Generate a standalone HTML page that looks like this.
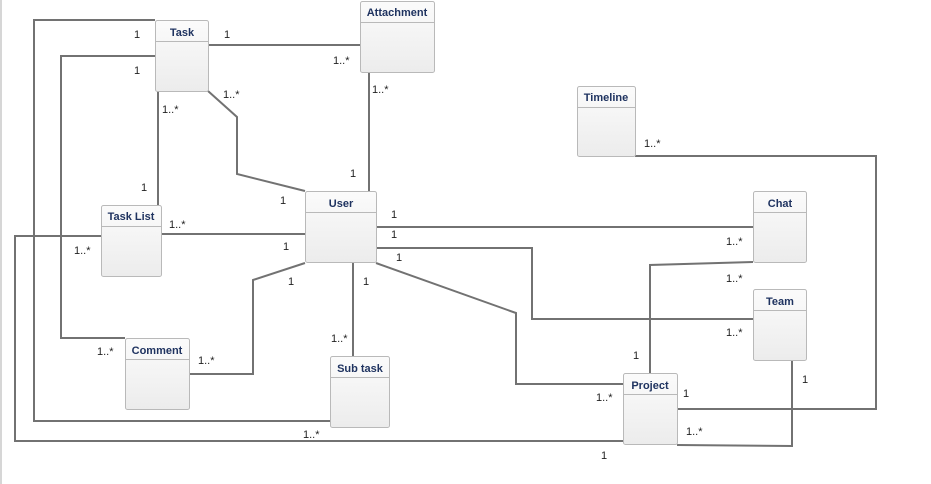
<!DOCTYPE html>
<html><head><meta charset="utf-8"><style>
html,body{margin:0;padding:0;background:#fff;}
svg{display:block;}
.t{font-family:"Liberation Sans",Arial,sans-serif;font-size:11px;fill:#222;}
.h{font-family:"Liberation Sans",Arial,sans-serif;font-size:11px;font-weight:bold;fill:#1f3360;text-anchor:middle;}
.l{fill:none;stroke:#727272;stroke-width:2;}
</style></head><body>
<svg width="931" height="484" viewBox="0 0 931 484" xmlns="http://www.w3.org/2000/svg">
<defs><linearGradient id="g" x1="0" y1="0" x2="0" y2="1"><stop offset="0" stop-color="#fbfbfb"/><stop offset="1" stop-color="#ececec"/></linearGradient></defs>
<line x1="1" y1="0" x2="1" y2="484" stroke="#c8c8c8" stroke-width="1.5"/>
<g class="l">
<polyline points="155,20 34,20 34,421 330,421"/>
<polyline points="155,56 61,56 61,338 125,338"/>
<polyline points="208,45 360,45"/>
<polyline points="158,91 158,205"/>
<polyline points="208,91 237,117 237,174 305,191"/>
<polyline points="369,72 369,191"/>
<polyline points="161,234 305,234"/>
<polyline points="101,236 15,236 15,441 623,441"/>
<polyline points="376,227 753,227"/>
<polyline points="376,248 532,248 532,319 753,319"/>
<polyline points="376,263 516,313 516,384 623,384"/>
<polyline points="305,263 253,280 253,374 189,374"/>
<polyline points="353,263 353,356"/>
<polyline points="753,262 650,265 650,373"/>
<polyline points="792,360 792,446 677,445"/>
<polyline points="635,156 876,156 876,409 677,409"/>
</g>
<g stroke="#b9b9b9" stroke-width="1" fill="url(#g)">
<rect x="155.5" y="20.5" width="53" height="71" rx="2"/><line x1="155.5" y1="41.5" x2="208.5" y2="41.5"/>
<rect x="360.5" y="1.5" width="74" height="71" rx="2"/><line x1="360.5" y1="22.5" x2="434.5" y2="22.5"/>
<rect x="577.5" y="86.5" width="58" height="70" rx="2"/><line x1="577.5" y1="107.5" x2="635.5" y2="107.5"/>
<rect x="305.5" y="191.5" width="71" height="71" rx="2"/><line x1="305.5" y1="212.5" x2="376.5" y2="212.5"/>
<rect x="101.5" y="205.5" width="60" height="71" rx="2"/><line x1="101.5" y1="226.5" x2="161.5" y2="226.5"/>
<rect x="753.5" y="191.5" width="53" height="71" rx="2"/><line x1="753.5" y1="212.5" x2="806.5" y2="212.5"/>
<rect x="753.5" y="289.5" width="53" height="71" rx="2"/><line x1="753.5" y1="310.5" x2="806.5" y2="310.5"/>
<rect x="125.5" y="338.5" width="64" height="71" rx="2"/><line x1="125.5" y1="359.5" x2="189.5" y2="359.5"/>
<rect x="330.5" y="356.5" width="59" height="71" rx="2"/><line x1="330.5" y1="377.5" x2="389.5" y2="377.5"/>
<rect x="623.5" y="373.5" width="54" height="71" rx="2"/><line x1="623.5" y1="394.5" x2="677.5" y2="394.5"/>
</g>
<text class="h" x="182" y="36">Task</text>
<text class="h" x="397" y="16">Attachment</text>
<text class="h" x="606" y="101">Timeline</text>
<text class="h" x="341" y="207">User</text>
<text class="h" x="131" y="220">Task List</text>
<text class="h" x="780" y="207">Chat</text>
<text class="h" x="780" y="305">Team</text>
<text class="h" x="157" y="354">Comment</text>
<text class="h" x="360" y="372">Sub task</text>
<text class="h" x="650" y="389">Project</text>
<g class="t">
<text x="134" y="38">1</text><text x="224" y="38">1</text>
<text x="134" y="74">1</text><text x="333" y="64">1..*</text>
<text x="162" y="113">1..*</text><text x="223" y="98">1..*</text>
<text x="372" y="93">1..*</text>
<text x="644" y="147">1..*</text>
<text x="350" y="177">1</text>
<text x="141" y="191">1</text><text x="280" y="204">1</text>
<text x="169" y="228">1..*</text><text x="74" y="254">1..*</text>
<text x="283" y="250">1</text>
<text x="391" y="218">1</text><text x="391" y="238">1</text><text x="396" y="261">1</text>
<text x="726" y="245">1..*</text><text x="726" y="282">1..*</text><text x="726" y="336">1..*</text>
<text x="288" y="285">1</text><text x="363" y="285">1</text>
<text x="331" y="342">1..*</text>
<text x="97" y="355">1..*</text><text x="198" y="364">1..*</text>
<text x="633" y="359">1</text>
<text x="802" y="383">1</text>
<text x="596" y="401">1..*</text><text x="683" y="397">1</text>
<text x="686" y="435">1..*</text>
<text x="303" y="438">1..*</text>
<text x="601" y="459">1</text>
</g>
</svg>
</body></html>
